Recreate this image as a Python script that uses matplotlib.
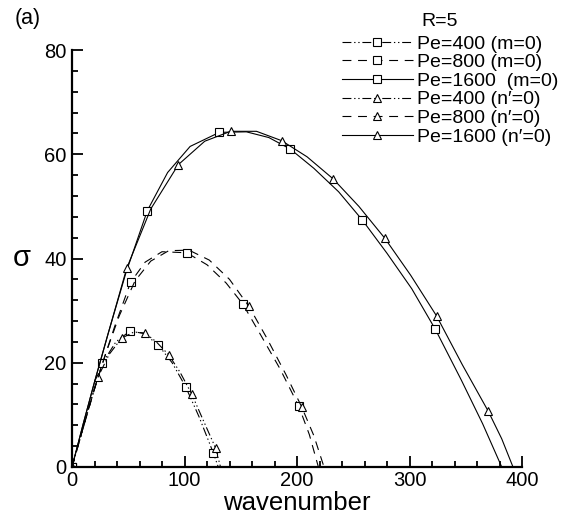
import numpy as np
import matplotlib
matplotlib.use("Agg")
import matplotlib.pyplot as plt
from matplotlib.ticker import MultipleLocator

plt.rcParams['font.family'] = ['Liberation Sans', 'DejaVu Sans']

# curves (wavenumber, sigma)
k_1600_m = [0, 10, 20, 32, 48, 67, 85, 105, 131, 155, 175, 194, 215, 237, 258, 280, 302, 323, 346, 365, 382]
s_1600_m = [0, 8.3, 16.3, 25.5, 37.3, 49.2, 56.5, 61.5, 64.2, 64.3, 63.2, 61, 57.3, 52.8, 47.4, 41, 34.2, 26.4, 16.7, 8.3, 0]

k_1600_n = [0, 10, 20, 32, 48.6, 70, 94.5, 118, 141, 164, 186.4, 209, 232, 255, 278, 301, 324, 347, 370, 382, 392]
s_1600_n = [0, 8.3, 16.3, 25.5, 38.1, 49.5, 58, 62.5, 64.4, 64.4, 62.6, 59.5, 55.3, 50, 43.9, 36.8, 29, 19.6, 10.7, 5.4, 0]

k_800_m = [0, 10, 20, 27, 38, 52, 65, 80, 102, 120, 137, 151.7, 167, 185, 201.5, 211, 219]
s_800_m = [0, 7.6, 15, 19.8, 27, 35.4, 39.3, 41.3, 41.1, 38.8, 35.3, 31.3, 25.6, 18.8, 11.7, 6.2, 0]

k_800_n = [0, 10, 20, 30, 42, 56, 70, 86, 104, 122, 140, 157.3, 173, 190, 204, 215, 224]
s_800_n = [0, 7.6, 15, 21.8, 29, 35.7, 39.5, 41.5, 41.6, 39.7, 36, 30.8, 24.8, 17.8, 11.6, 6, 0]

k_400_m = [0, 8, 16, 27, 39, 51.6, 64, 76.7, 89, 101, 113, 125.6, 130]
s_400_m = [0, 6.2, 12.3, 19.9, 24, 26.1, 25.6, 23.4, 20, 15.4, 9.6, 2.7, 0]

k_400_n = [0, 8, 15, 23, 33, 44, 55, 65, 75, 86, 96, 106.4, 117, 127.7, 132]
s_400_n = [0, 6, 11.3, 17.2, 21.6, 24.7, 25.9, 25.7, 24, 21.5, 18.2, 14, 8.8, 3.6, 0]

dashdot2 = (0, (8, 2.5, 1.2, 2.5, 1.2, 2.5))
dashed = (0, (8, 6))

fig = plt.figure(figsize=(5.78, 5.19), dpi=100)
ax = fig.add_axes([72 / 578, 52 / 519, 450 / 578, 417 / 519])

kw = dict(color='black', lw=0.8, markersize=5.5, markerfacecolor='white', markeredgewidth=0.8)
ax.plot(k_400_m, s_400_m, ls=dashdot2, marker='s', markevery=[0, 3, 5, 7, 9, 11], label='Pe=400 (m=0)', **kw)
ax.plot(k_800_m, s_800_m, ls=dashed, marker='s', markevery=[0, 5, 8, 11, 14], label='Pe=800 (m=0)', **kw)
ax.plot(k_1600_m, s_1600_m, ls='-', marker='s', markevery=[0, 5, 8, 11, 14, 17], label='Pe=1600  (m=0)', **kw)
ax.plot(k_400_n, s_400_n, ls=dashdot2, marker='^', markevery=[0, 3, 5, 7, 9, 11, 13], label='Pe=400 (n\u2032=0)', **kw)
ax.plot(k_800_n, s_800_n, ls=dashed, marker='^', markevery=[0, 11, 14], label='Pe=800 (n\u2032=0)', **kw)
ax.plot(k_1600_n, s_1600_n, ls='-', marker='^', markevery=[0, 4, 6, 8, 10, 12, 14, 16, 18], label='Pe=1600 (n\u2032=0)', **kw)

ax.set_xlim(0, 400)
ax.set_ylim(0, 80)
ax.xaxis.set_major_locator(MultipleLocator(100))
ax.xaxis.set_minor_locator(MultipleLocator(20))
ax.yaxis.set_major_locator(MultipleLocator(20))
ax.yaxis.set_minor_locator(MultipleLocator(4))
ax.tick_params(which='both', direction='in', width=1.3, labelsize=14.5)
ax.tick_params(which='major', length=8)
ax.tick_params(which='minor', length=4)
ax.tick_params(axis='x', pad=3)
ax.tick_params(axis='y', pad=4)
for side in ['top', 'right']:
    ax.spines[side].set_visible(False)
for side in ['left', 'bottom']:
    ax.spines[side].set_linewidth(1.6)

ax.set_xlabel('wavenumber', fontsize=18.5, labelpad=0.5)
ax.set_ylabel('σ', fontsize=21, rotation=0, va='center', ha='center')
ax.yaxis.set_label_coords(-0.112, 0.5)

fig.text(0.026, 0.965, '(a)', fontsize=15.5, va='center')
fig.text(421.7 / 578, 1 - 21.7 / 519, 'R=5', fontsize=14, va='center')

leg = ax.legend(loc='upper left', bbox_to_anchor=(341.7 / 578, 1 - 35 / 519), bbox_transform=fig.transFigure,
                frameon=False, fontsize=14, handlelength=3.65, handletextpad=0.2,
                labelspacing=0.05, borderpad=0, borderaxespad=0, numpoints=1)

fig.savefig('out.png', dpi=100)
